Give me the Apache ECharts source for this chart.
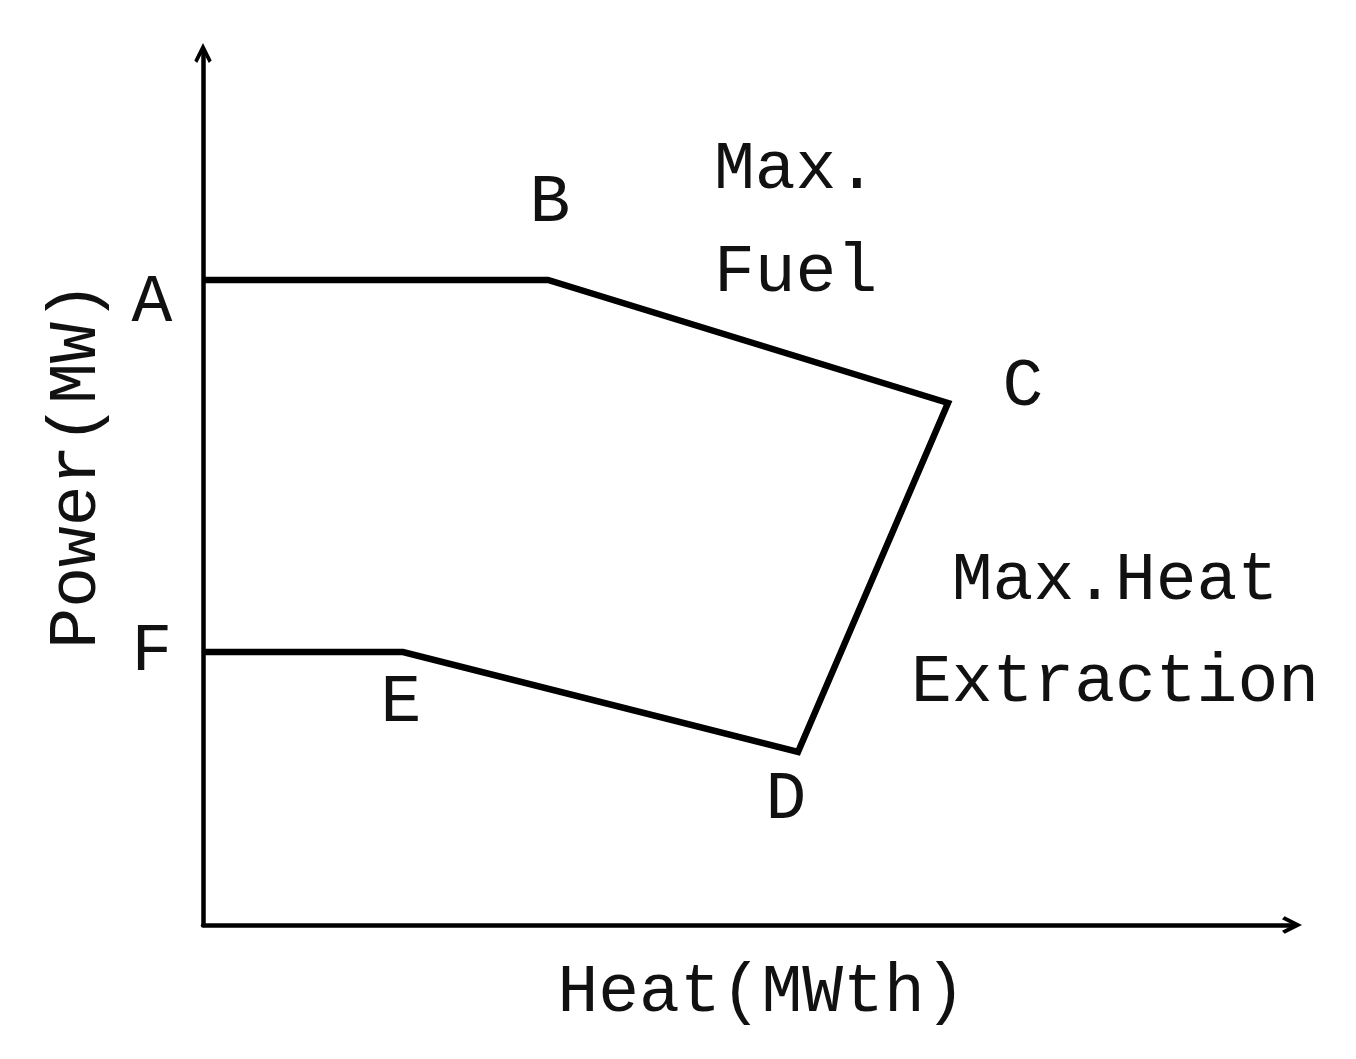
<!DOCTYPE html>
<html><head><meta charset="utf-8">
<script src="https://cdn.jsdelivr.net/npm/echarts@6/dist/echarts.min.js"></script>
<style>html,body{margin:0;padding:0;background:#fff}#c{width:1356px;height:1059px}</style>
</head><body><div id="c"></div>
<script>
var pointLabels = ['A', 'B', 'C', 'D', 'E', 'F'];
var heatValues = [0, 345, 745, 595, 200, 0];
var powerValues = [645, 645, 522, 173, 273, 273];
var xAxisName = 'Heat(MWth)';
var yAxisName = 'Power(MW)';
var annotations = ['Max.\nFuel', 'Max.Heat\nExtraction'];

var FONT = 'Liberation Mono';
var labelOffsets = [[-51, 23], [2, -77], [75, -16], [-12, 48], [-2, 51], [-51, 0]];
var pts = heatValues.map(function (x, i) { return [x, powerValues[i]]; });
var arrow = 'path://M0,12 L6,0 L12,12 L10,13.8 L6,6 L2,13.8 Z';

var chart = echarts.init(document.getElementById('c'), null, {renderer: 'canvas'});
chart.setOption({
  animation: false,
  backgroundColor: '#fff',
  grid: {left: 203, right: 64, top: 53, bottom: 134, containLabel: false},
  xAxis: {
    type: 'value', min: 0, max: 1089,
    axisLine: {show: true, symbol: ['none', arrow], symbolSize: [30, 20],
      lineStyle: {color: '#000', width: 4.5}},
    axisTick: {show: false}, axisLabel: {show: false}, splitLine: {show: false},
    name: xAxisName, nameLocation: 'middle', nameGap: 34,
    nameTextStyle: {fontFamily: FONT, fontSize: 68, color: '#111', padding: [0, 0, 0, 28]}
  },
  yAxis: {
    type: 'value', min: 0, max: 872,
    axisLine: {show: true, symbol: ['none', arrow], symbolSize: [30, 20],
      lineStyle: {color: '#000', width: 4.5}},
    axisTick: {show: false}, axisLabel: {show: false}, splitLine: {show: false},
    name: yAxisName, nameLocation: 'middle', nameGap: 92, nameRotate: 90,
    nameTextStyle: {fontFamily: FONT, fontSize: 68, color: '#111', padding: [0, 0, 0, 48]}
  },
  series: [
    {
      type: 'line', data: pts, symbol: 'none', silent: true,
      lineStyle: {color: '#000', width: 6.5, join: 'miter'}
    },
    {
      type: 'scatter', symbolSize: 1, silent: true,
      itemStyle: {color: 'rgba(0,0,0,0)', opacity: 1},
      data: pts.map(function (p, i) {
        return {value: p, label: {show: true, formatter: pointLabels[i], position: 'inside',
          offset: labelOffsets[i], fontFamily: FONT, fontSize: 68, color: '#111'}};
      })
    }
  ],
  graphic: [
    {type: 'text', x: 714, y: 118, style: {text: annotations[0], font: '68px "Liberation Mono"', fill: '#111', lineHeight: 103}},
    {type: 'text', x: 1115, y: 530, style: {text: annotations[1], font: '68px "Liberation Mono"', fill: '#111', lineHeight: 102, align: 'center'}}
  ]
});
</script></body></html>
